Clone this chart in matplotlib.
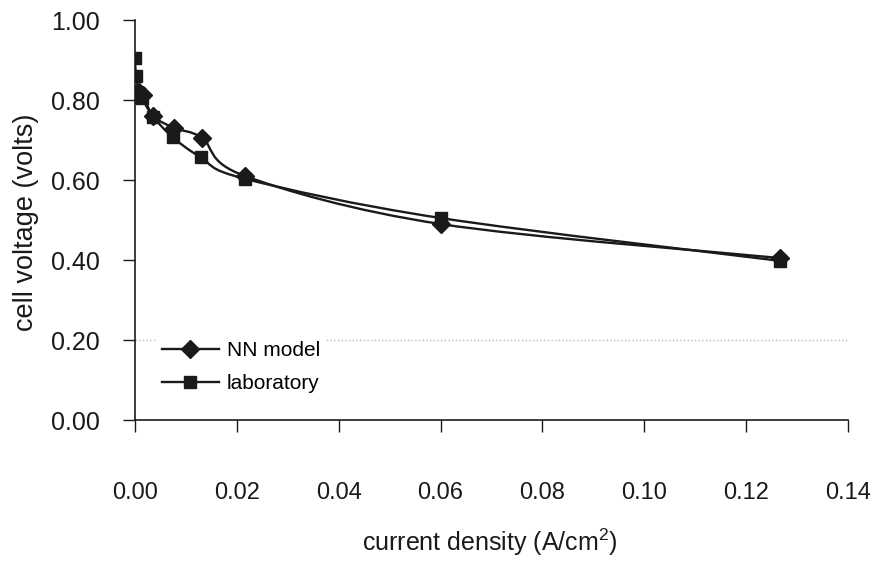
import matplotlib
matplotlib.use("Agg")
import matplotlib.pyplot as plt
import numpy as np
from matplotlib.path import Path
from matplotlib.patches import PathPatch
from matplotlib.lines import Line2D

# Data
nn_x = [0.0, 0.0008, 0.0016, 0.0036, 0.0077, 0.0132, 0.0216, 0.060, 0.1266]
nn_y = [0.815, 0.82, 0.812, 0.76, 0.73, 0.705, 0.61, 0.49, 0.405]
lab_x = [0.0, 0.0002, 0.0008, 0.0013, 0.0036, 0.0074, 0.0129, 0.0216, 0.060, 0.1266]
lab_y = [0.905, 0.86, 0.815, 0.805, 0.758, 0.707, 0.657, 0.603, 0.505, 0.398]
series_labels = ["NN model", "laboratory"]
x_ticks = [0.00, 0.02, 0.04, 0.06, 0.08, 0.10, 0.12, 0.14]
y_ticks = [0.00, 0.20, 0.40, 0.60, 0.80, 1.00]

plt.rcParams['font.family'] = ['Liberation Sans', 'DejaVu Sans']
plt.rcParams['mathtext.fontset'] = 'custom'
plt.rcParams['mathtext.rm'] = 'Liberation Sans'
plt.rcParams['mathtext.it'] = 'Liberation Sans'
plt.rcParams['mathtext.bf'] = 'Liberation Sans'
col = '#1a1a1a'

fig = plt.figure(figsize=(8.75, 5.65), dpi=100)
ax = fig.add_axes([0.1543, 0.2566, 0.969 - 0.1543, 0.9646 - 0.2566])
ax.set_xlim(0, 0.14)
ax.set_ylim(0, 1.0)


def smooth_path(xs, ys, t=1/6):
    P = np.column_stack([xs, ys]).astype(float)
    n = len(P)
    verts = [P[0]]
    codes = [Path.MOVETO]
    for i in range(n - 1):
        p0 = P[i - 1] if i > 0 else P[i]
        p1 = P[i]
        p2 = P[i + 1]
        p3 = P[i + 2] if i + 2 < n else P[i + 1]
        c1 = p1 + (p2 - p0) * t
        c2 = p2 - (p3 - p1) * t
        verts += [c1, c2, p2]
        codes += [Path.CURVE4] * 3
    return Path(verts, codes)


for xs, ys in [(nn_x, nn_y), (lab_x, lab_y)]:
    ax.add_patch(PathPatch(smooth_path(xs, ys), facecolor='none',
                           edgecolor=col, lw=1.7, zorder=3))

ax.plot(nn_x, nn_y, linestyle='none', marker='D', ms=9, color=col, zorder=4)
ax.plot(lab_x, lab_y, linestyle='none', marker='s', ms=9, color=col, zorder=4)

ax.axhline(0.2, color='#bbbbbb', lw=1.0, ls=':', zorder=1)

for s in ['top', 'right']:
    ax.spines[s].set_visible(False)
for s in ['left', 'bottom']:
    ax.spines[s].set_color(col)
    ax.spines[s].set_linewidth(1.2)

ax.set_xticks(x_ticks)
ax.set_xticklabels([f"{v:.2f}" for v in x_ticks])
ax.set_yticks(y_ticks)
ax.set_yticklabels([f"{v:.2f}" for v in y_ticks])
ax.tick_params(axis='x', direction='out', length=8.6, width=1.0, color=col,
               labelsize=17, pad=36, labelcolor=col)
ax.tick_params(axis='y', direction='out', length=8.6, width=1.0, color=col,
               labelsize=18, pad=17, labelcolor=col)

ax.set_xlabel("current density (A/cm$^2$)", fontsize=18, color=col)
ax.xaxis.set_label_coords(0.498, -0.2675)
ax.set_ylabel("cell voltage (volts)", fontsize=19.5, color=col)
ax.yaxis.set_label_coords(-0.134, 0.495)

handles = [Line2D([], [], color=col, lw=1.7, marker='D', ms=9),
           Line2D([], [], color=col, lw=1.7, marker='s', ms=8)]
leg = ax.legend(handles, series_labels, loc='upper left',
                bbox_to_anchor=(0.0295, 0.2125), frameon=True, fontsize=15,
                handlelength=2.7, handletextpad=0.4, labelspacing=0.65,
                borderpad=0.3, borderaxespad=0)
leg.get_frame().set_edgecolor('none')
leg.get_frame().set_facecolor('white')
leg.get_frame().set_alpha(1)

fig.savefig("out.png", dpi=100)
